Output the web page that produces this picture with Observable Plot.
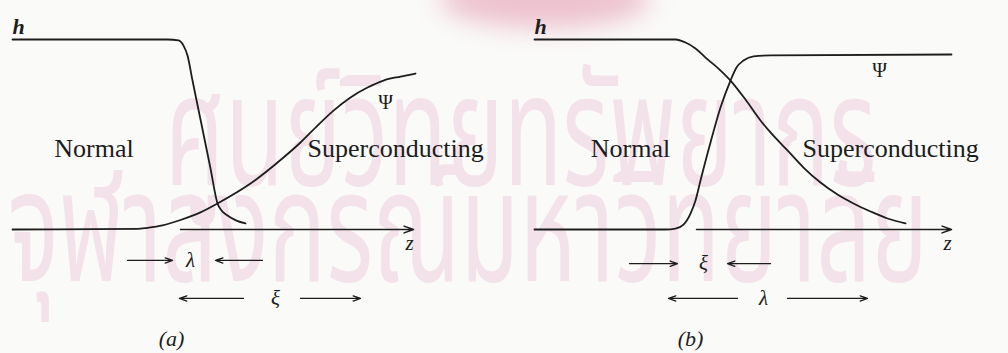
<!DOCTYPE html>
<html>
<head>
<meta charset="utf-8">
<script src="https://cdn.jsdelivr.net/npm/d3@7"></script>
<script src="https://cdn.jsdelivr.net/npm/@observablehq/plot@0.6"></script>
<style>
  html, body { margin: 0; padding: 0; background: #fafaf8; }
  #stage { position: relative; width: 1008px; height: 353px; overflow: hidden; background: #fafaf8; }
  .wm { position: absolute; white-space: nowrap; font-family: "Noto Sans Thai", "Noto Sans", sans-serif; font-size: 120px; color: #f4e2eb; line-height: 1; transform-origin: 0 0; transform: scale(0.8, 1.3); }
  .seal { position: absolute; left: 440px; top: -28px; width: 210px; height: 56px; border-radius: 50%; background: #e8abbd; filter: blur(12px); opacity: 0.7; }
  #chart { position: absolute; left: 0; top: 0; }
</style>
</head>
<body>
<div id="stage">
  <div class="seal"></div>
  <div class="wm" style="left:165px; top:60px;">ศูนย์วิทยทรัพยากร</div>
  <div class="wm" style="left:8px; top:156px;">จุฬาลงกรณ์มหาวิทยาลัย</div>
  <div id="chart"></div>
</div>
<script>
// Panels: (a) lambda << xi, (b) lambda >> xi
const panels = ["a", "b"];

// Field h(z) and order parameter Psi(z), as [z, value] pairs
const hA   = [[0,1],[15.5,1],[16.6,0.995],[17.1,0.968],[17.5,0.916],[18.0,0.784],[18.8,0.579],[19.8,0.321],[20.5,0.137],[20.9,0.100],[21.5,0.074],[22.4,0.047],[23.3,0.032]];
const psiA = [[0,0],[12.5,0.003],[13.5,0.009],[15.0,0.022],[16.8,0.050],[18.8,0.090],[20.5,0.137],[23.8,0.242],[27.1,0.379],[28.8,0.458],[30.5,0.547],[32.1,0.626],[33.8,0.695],[35.5,0.747],[37.1,0.784],[38.8,0.805],[40.3,0.821]];
const hB   = [[0,1],[14.1,1],[15.1,0.984],[16.1,0.953],[17.1,0.905],[18.4,0.847],[19.6,0.784],[21.1,0.684],[22.6,0.574],[23.6,0.511],[25.3,0.416],[26.9,0.326],[28.6,0.247],[30.3,0.184],[31.9,0.137],[33.6,0.095],[35.3,0.058],[37.1,0.032]];
const psiB = [[0,0],[13.1,0],[14.1,0.005],[14.9,0.026],[15.6,0.084],[16.1,0.153],[16.6,0.258],[17.6,0.458],[18.6,0.642],[19.6,0.784],[20.2,0.853],[20.9,0.889],[21.9,0.911],[23.6,0.916],[41.7,0.921]];

// z-axis extent in each panel
const zAxis = [["a", 16.8, 40.1], ["b", 16.2, 41.7]];

// Length-scale indicators: [panel, from, to, row]
const scaleArrows = [
  ["a", 11.5, 16.0, -0.163], ["a", 25.0, 20.3, -0.163],
  ["a", 23.1, 16.7, -0.363], ["a", 28.8, 34.8, -0.363],
  ["b",  9.5, 14.3, -0.180], ["b", 23.6, 19.3, -0.180],
  ["b", 20.3, 13.4, -0.363], ["b", 25.3, 33.3, -0.363]
];
// Length-scale symbols: [panel, z, row, symbol]
const scaleSymbols = [
  ["a", 17.8, -0.163, "λ"], ["a", 26.3, -0.363, "ξ"],
  ["b", 16.9, -0.180, "ξ"], ["b", 22.9, -0.363, "λ"]
];

// Text labels
const regionNames = ["Normal", "Superconducting"];
const normalLabel = [["a", 8.15], ["b", 9.6]];
const superLabel  = [["a", 29.5], ["b", 26.8]];
const psiLabel    = [["a", 37.3, 0.668], ["b", 34.5, 0.837]];
const zLabel      = [["a", 39.7], ["b", 41.3]];
const captions    = [["a", 15.9, "(a)"], ["b", 15.6, "(b)"]];

const curves = [
  ...hA.map(([z, v]) => ({panel: "a", name: "h", z, v})),
  ...psiA.map(([z, v]) => ({panel: "a", name: "psi", z, v})),
  ...hB.map(([z, v]) => ({panel: "b", name: "h", z, v})),
  ...psiB.map(([z, v]) => ({panel: "b", name: "psi", z, v}))
];
const axes = zAxis.map(([panel, z1, z2]) => ({panel, z1, z2}));
const arrows = scaleArrows.map(([panel, z1, z2, v]) => ({panel, z1, z2, v}));
const symbols = scaleSymbols.map(([panel, z, v, s]) => ({panel, z, v, s}));

const ink = "#1d1d1d";
const serif = "Liberation Serif, Times New Roman, serif";

const svg = Plot.plot({
  width: 1008,
  height: 353,
  marginLeft: 12,
  marginRight: 54,
  marginTop: 39,
  marginBottom: 124,
  style: {background: "transparent", fontFamily: serif, color: ink},
  fx: {domain: panels, paddingInner: 102 / 522, paddingOuter: 0, axis: null},
  x: {domain: [0, 42], axis: null},
  y: {domain: [0, 1], axis: null},
  marks: [
    Plot.line(curves, {x: "z", y: "v", z: "name", fx: "panel", curve: "monotone-x", stroke: ink, strokeWidth: 1.8}),
    Plot.arrow(axes, {x1: "z1", x2: "z2", y1: 0, y2: 0, fx: "panel", stroke: ink, strokeWidth: 1.5, headLength: 10, headAngle: 40}),
    Plot.arrow(arrows, {x1: "z1", x2: "z2", y1: "v", y2: "v", fx: "panel", stroke: ink, strokeWidth: 1.3, headLength: 9, headAngle: 40}),
    Plot.text(symbols, {x: "z", y: "v", text: "s", fx: "panel", fontSize: 21, fontStyle: "italic", fill: ink, lineAnchor: "middle"}),
    Plot.text(panels, {x: 0, y: 1, fx: d => d, text: () => "h", fontSize: 22, fontStyle: "italic", fontWeight: "bold", textAnchor: "start", lineAnchor: "bottom", dy: -6, fill: ink}),
    Plot.text(psiLabel, {x: d => d[1], y: d => d[2], fx: d => d[0], text: () => "Ψ", fontSize: 20, fill: ink, lineAnchor: "middle"}),
    Plot.text(normalLabel, {x: d => d[1], y: 0.379, fx: d => d[0], text: () => regionNames[0], fontSize: 26, fill: ink, lineAnchor: "bottom"}),
    Plot.text(superLabel.filter(d => d[0] === "a"), {x: d => d[1], y: 0.379, fx: d => d[0], text: () => regionNames[1], fontSize: 26, fill: ink, textAnchor: "start", lineAnchor: "bottom"}),
    Plot.text(superLabel.filter(d => d[0] === "b"), {x: d => d[1], y: 0.379, fx: d => d[0], text: () => regionNames[1], fontSize: 26, fill: ink, textAnchor: "start", lineAnchor: "bottom", ariaLabel: "sc-wide"}),
    Plot.text(zLabel, {x: d => d[1], y: -0.074, fx: d => d[0], text: () => "z", fontSize: 21, fontStyle: "italic", fill: ink, lineAnchor: "middle"}),
    Plot.text(captions, {x: d => d[1], y: -0.574, fx: d => d[0], text: d => d[2], fontSize: 22, fontStyle: "italic", fill: ink, lineAnchor: "middle"})
  ]
});

d3.select(svg).selectAll('g[aria-label="sc-wide"] text').attr("letter-spacing", "1.7px");
document.getElementById("chart").appendChild(svg);
</script>
</body>
</html>
